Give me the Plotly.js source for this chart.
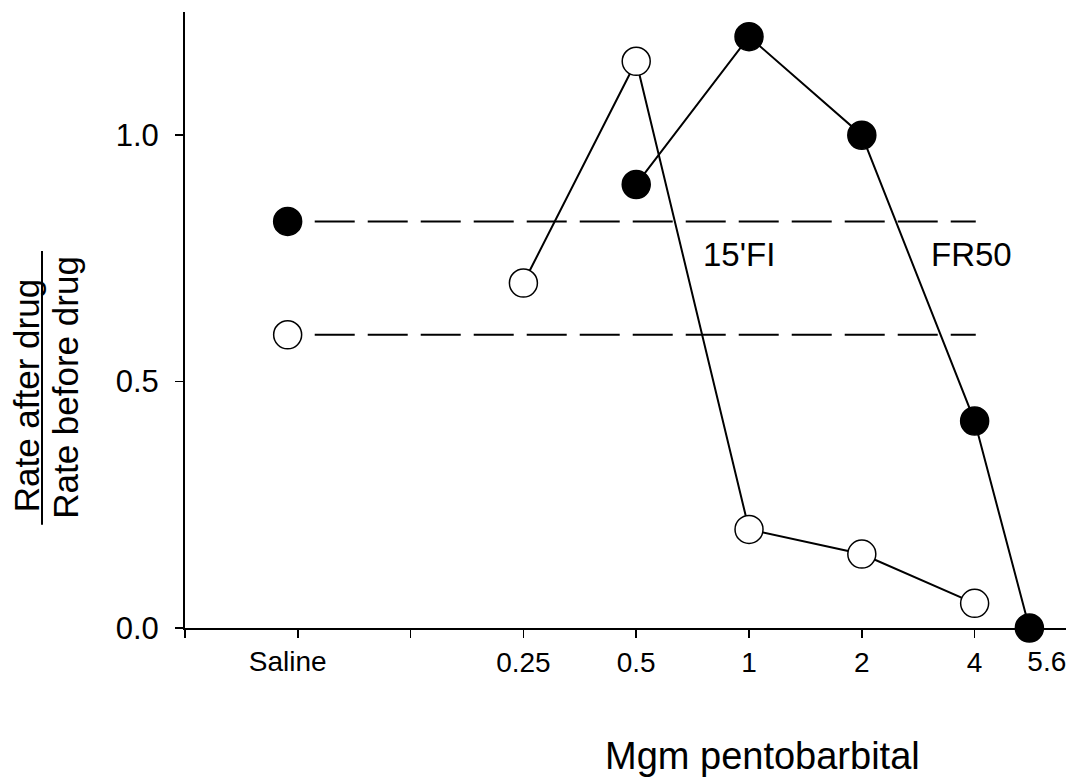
<!DOCTYPE html>
<html>
<head>
<meta charset="utf-8">
<script src="https://cdn.plot.ly/plotly-3.0.1.min.js"></script>
<style>html,body{margin:0;padding:0;background:#fff;}#chart{width:1076px;height:780px;}</style>
</head>
<body>
<div id="chart"></div>
<script>
// ---- data ----
const doseTickLabels = ["0.25", "0.5", "1", "2", "4"];
const doseTickValues = [0.25, 0.5, 1, 2, 4];

const fr50Doses = [0.5, 1, 2, 4, 5.6];
const fr50Values = [0.90, 1.20, 1.00, 0.42, 0.00];
const fr50Saline = 0.825;

const fiDoses = [0.25, 0.5, 1, 2, 4];
const fiValues = [0.70, 1.15, 0.20, 0.15, 0.05];
const fiSaline = 0.595;

const seriesLabels = ["15'FI", "FR50"];
const yTickValues = [0, 0.5, 1.0];
const yTickLabels = ["0.0", "0.5", "1.0"];

// ---- position helpers (log2 dose scale; Saline placed left of the doses) ----
const pos = d => Math.log2(d / 0.25) + 2;
const salinePos = -0.09;
const refStart = 0.15, refEnd = 6.01;
const FONT = "Liberation Sans, Arial, Helvetica, sans-serif";

const traces = [
  { x: [refStart, refEnd], y: [fr50Saline, fr50Saline], xaxis: "x2", mode: "lines",
    line: { color: "#000", width: 2, dash: "40px,13px" }, hoverinfo: "skip" },
  { x: [refStart, refEnd], y: [fiSaline, fiSaline], xaxis: "x2", mode: "lines",
    line: { color: "#000", width: 2, dash: "40px,13px" }, hoverinfo: "skip" },
  { x: fiDoses.map(pos), y: fiValues, mode: "lines+markers", cliponaxis: false,
    line: { color: "#000", width: 2 },
    marker: { symbol: "circle", size: 28, color: "#fff", line: { color: "#000", width: 1.5 } } },
  { x: [salinePos], y: [fiSaline], mode: "markers", cliponaxis: false,
    marker: { symbol: "circle", size: 28, color: "#fff", line: { color: "#000", width: 1.5 } } },
  { x: fr50Doses.map(pos), y: fr50Values, mode: "lines+markers", cliponaxis: false,
    line: { color: "#000", width: 2 },
    marker: { symbol: "circle", size: 28, color: "#000", line: { color: "#000", width: 1.5 } } },
  { x: [salinePos], y: [fr50Saline], mode: "markers", cliponaxis: false,
    marker: { symbol: "circle", size: 28, color: "#000", line: { color: "#000", width: 1.5 } } }
];

const xRange = [-1, 6.81];
const layout = {
  width: 1076, height: 780,
  margin: { l: 185, r: 10, t: 12, b: 152, pad: 0 },
  paper_bgcolor: "#fff", plot_bgcolor: "#fff",
  showlegend: false,
  font: { family: FONT, color: "#000" },
  xaxis: {
    range: xRange, showgrid: false, zeroline: false,
    showline: true, linecolor: "#000", linewidth: 2,
    ticks: "outside", ticklen: 8, tickwidth: 1.5, tickcolor: "#000",
    tickvals: [-1, 0, 1].concat(doseTickValues.map(pos)),
    ticktext: ["", "", ""].concat(doseTickLabels),
    tickfont: { family: FONT, size: 28, color: "#000" }
  },
  xaxis2: {
    overlaying: "x", anchor: "y", side: "bottom",
    range: xRange, showgrid: false, zeroline: false, showline: false,
    ticks: "outside", ticklen: 8, tickcolor: "rgba(0,0,0,0)",
    tickvals: [salinePos, 6.64],
    ticktext: ["Saline", "5.6"],
    tickfont: { family: FONT, size: 28, color: "#000" }
  },
  yaxis: {
    range: [0, 1.25], showgrid: false, zeroline: false,
    showline: true, linecolor: "#000", linewidth: 2,
    ticks: "outside", ticklen: 8, tickwidth: 1.5, tickcolor: "#000",
    tickvals: yTickValues, ticktext: yTickLabels,
    ticklabelstandoff: 10,
    tickfont: { family: FONT, size: 31, color: "#000" }
  },
  annotations: [
    { text: seriesLabels[0], x: 3.914, y: 0.758, xref: "x", yref: "y", showarrow: false,
      xanchor: "center", yanchor: "middle", font: { family: FONT, size: 33, color: "#000" } },
    { text: seriesLabels[1], x: 5.975, y: 0.758, xref: "x", yref: "y", showarrow: false,
      xanchor: "center", yanchor: "middle", font: { family: FONT, size: 33, color: "#000" } },
    { text: "Mgm pentobarbital", x: (762.5 - 185) / 881, y: -0.208, xref: "paper", yref: "paper",
      showarrow: false, xanchor: "center", yanchor: "middle", font: { family: FONT, size: 38, color: "#000" } },
    { text: "Rate after drug", textangle: -90, x: (26 - 185) / 881, y: (628.3 - 396.5) / 616.3,
      xref: "paper", yref: "paper", showarrow: false, xanchor: "center", yanchor: "middle",
      font: { family: FONT, size: 35, color: "#000" } },
    { text: "Rate before drug", textangle: -90, x: (66 - 185) / 881, y: (628.3 - 388) / 616.3,
      xref: "paper", yref: "paper", showarrow: false, xanchor: "center", yanchor: "middle",
      font: { family: FONT, size: 35, color: "#000" } }
  ],
  shapes: [
    { type: "line", xref: "paper", yref: "paper",
      x0: (42 - 185) / 881, x1: (42 - 185) / 881,
      y0: (628.3 - 525) / 616.3, y1: (628.3 - 251) / 616.3,
      line: { color: "#000", width: 2 } }
  ]
};

Plotly.newPlot("chart", traces, layout, { displayModeBar: false, staticPlot: true });
</script>
</body>
</html>
